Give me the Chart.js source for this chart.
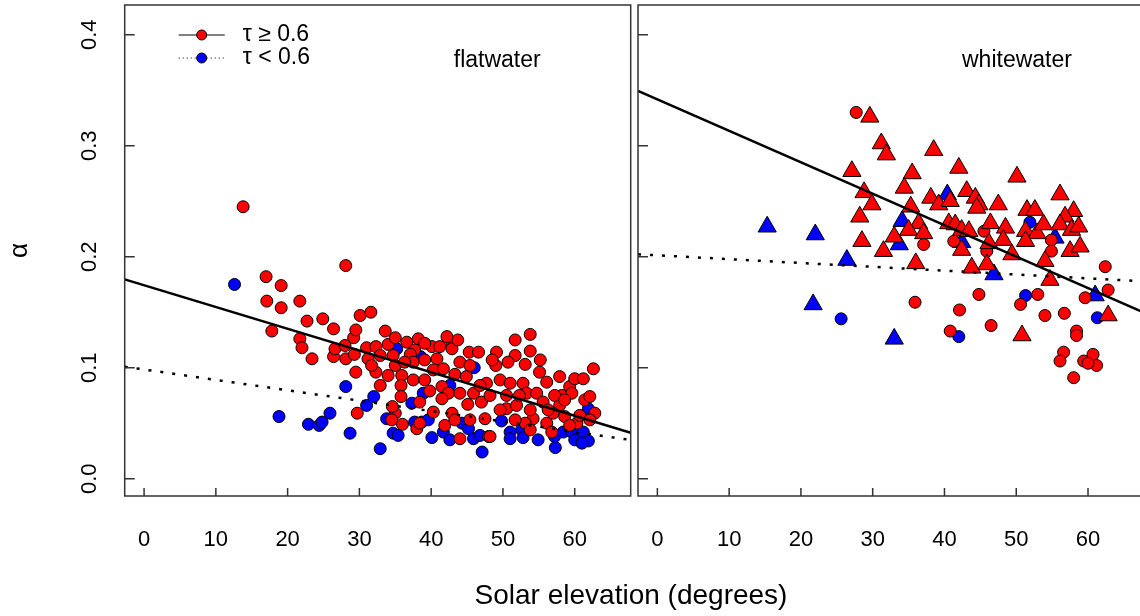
<!DOCTYPE html>
<html>
<head>
<meta charset="utf-8">
<script src="https://cdn.jsdelivr.net/npm/chart.js@4.4.1/dist/chart.umd.min.js"></script>
<style>
  html, body { margin: 0; padding: 0; background: #fff; overflow: hidden; }
  body { width: 1140px; height: 616px; position: relative; font-family: "Liberation Sans", Arial, sans-serif; }
  #flat { position: absolute; left: 0; top: 0; }
  #white { position: absolute; left: 600px; top: 0; }
  #xtitle { position: absolute; left: 431px; width: 400px; top: 580px; text-align: center;
            font-size: 28px; line-height: 30px; color: #000; }
</style>
</head>
<body>
<canvas id="flat" width="636" height="616"></canvas>
<canvas id="white" width="560" height="616"></canvas>
<div id="xtitle">Solar elevation (degrees)</div>
<script>
// axis ranges and ticks (shared by both panels)
const X_MIN = -2.7, X_MAX = 67.8;
const Y_MIN = -0.0156, Y_MAX = 0.4268;
const xTickValues = [0, 10, 20, 30, 40, 50, 60];
const yTickValues = [0, 0.1, 0.2, 0.3, 0.4];

// fitted lines, evaluated at X_MIN and X_MAX
const fitX = [X_MIN, X_MAX];
const flatFitHigh = [0.1796, 0.0414];
const flatFitLow = [0.1009, 0.0349];
const whiteFitHigh = [0.3494, 0.1497];
const whiteFitLow = [0.2022, 0.1778];

// flatwater, tau >= 0.6 : [solar elevation, alpha]
const flatHigh = [
  [13.8,0.245],[17.0,0.182],[19.1,0.174],[17.1,0.160],[19.1,0.154],[21.7,0.160],[28.1,0.192],
  [22.7,0.142],[24.9,0.144],[26.4,0.135],[30.1,0.147],[31.6,0.150],[17.8,0.133],[21.7,0.126],
  [22.0,0.118],[23.4,0.108],[26.4,0.110],[26.6,0.117],[28.1,0.108],[29.2,0.127],[29.5,0.134],
  [29.3,0.112],[31.0,0.118],[31.2,0.108],[29.5,0.096],[32.3,0.096],[29.7,0.059],[32.3,0.119],
  [33.6,0.133],[34.0,0.121],[34.7,0.111],[34.0,0.093],[35.9,0.093],[35.8,0.084],[35.8,0.074],
  [35.0,0.059],[36.0,0.049],[34.6,0.065],[36.6,0.123],[38.2,0.126],[37.7,0.116],[37.1,0.112],
  [37.5,0.105],[37.5,0.089],[39.1,0.089],[38.4,0.069],[38.0,0.045],[40.1,0.119],[41.2,0.119],
  [42.9,0.122],[40.8,0.108],[42.9,0.117],[40.3,0.098],[41.7,0.099],[43.3,0.094],[41.5,0.083],
  [42.4,0.077],[41.5,0.072],[42.9,0.059],[44.0,0.105],[45.3,0.114],[46.6,0.114],[44.9,0.092],
  [45.9,0.077],[47.0,0.069],[47.5,0.054],[48.0,0.038],[44.0,0.077],[47.7,0.086],[49.1,0.114],
  [49.0,0.102],[49.6,0.089],[51.7,0.125],[53.8,0.130],[51.7,0.111],[53.1,0.103],[53.8,0.115],
  [51.0,0.086],[52.8,0.086],[50.5,0.075],[53.3,0.077],[50.5,0.063],[51.9,0.066],[54.7,0.077],
  [55.6,0.069],[54.2,0.054],[56.1,0.087],[57.9,0.092],[58.2,0.075],[57.9,0.066],[57.0,0.059],
  [59.3,0.083],[60.0,0.090],[61.2,0.090],[59.6,0.077],[58.6,0.056],[60.3,0.050],[62.6,0.099],
  [62.8,0.059],[53.1,0.050],[56.1,0.050],[56.8,0.042],[48.2,0.038],[44.0,0.036],[40.3,0.060],
  [38.4,0.050],[32.9,0.111],[35.0,0.102],[39.1,0.107],[43.7,0.125],[45.4,0.102],[48.2,0.075],
  [49.6,0.062],[51.7,0.053],[55.2,0.107],[57.2,0.075],[61.4,0.071],[60.7,0.057],[53.8,0.062],
  [45.4,0.053],[41.9,0.048],[39.1,0.122],[42.2,0.128],[35.0,0.127],[36.3,0.105],[39.8,0.079],
  [45.1,0.067],[48.5,0.107],[50.7,0.105],[55.1,0.096],[56.3,0.062],[58.6,0.071],[62.1,0.074],
  [62.1,0.053],[52.3,0.075],[46.8,0.084],[32.9,0.084],[31.7,0.102],[28.0,0.120],[34.5,0.053],
  [43.3,0.053],[53.8,0.044],[59.3,0.048]
];

// flatwater, tau < 0.6
const flatLow = [
  [12.6,0.175],[18.8,0.056],[22.9,0.049],[24.4,0.048],[24.8,0.051],[25.9,0.059],[28.1,0.083],
  [28.7,0.041],[31.0,0.066],[32.0,0.074],[32.9,0.027],[33.8,0.054],[34.7,0.041],[35.4,0.039],
  [37.3,0.068],[37.7,0.051],[38.7,0.051],[38.9,0.077],[39.6,0.053],[38.5,0.110],[35.2,0.117],
  [42.6,0.084],[41.7,0.042],[42.6,0.035],[44.3,0.050],[45.2,0.045],[45.9,0.036],[46.8,0.039],
  [47.1,0.024],[46.0,0.100],[49.8,0.052],[51.0,0.042],[51.0,0.036],[52.6,0.044],[52.8,0.037],
  [54.9,0.035],[57.2,0.038],[57.3,0.028],[58.4,0.042],[59.6,0.042],[60.0,0.035],[61.2,0.042],
  [61.9,0.034],[61.9,0.063],[61.0,0.032],[40.1,0.037]
];

// whitewater, tau >= 0.6 (triangles and circles)
const whiteHighTri = [
  [29.6,0.326],[31.2,0.302],[27.1,0.277],[28.8,0.258],[29.9,0.247],[28.2,0.236],[28.5,0.214],
  [31.5,0.205],[31.9,0.292],[38.5,0.296],[42.0,0.280],[35.5,0.275],[50.1,0.272],[34.4,0.262],
  [43.1,0.259],[56.1,0.256],[38.1,0.253],[39.2,0.247],[40.8,0.250],[44.3,0.253],[44.8,0.247],
  [44.5,0.244],[47.5,0.247],[51.5,0.242],[52.6,0.242],[58.0,0.241],[56.8,0.236],[35.3,0.245],
  [36.4,0.230],[35.0,0.224],[37.1,0.221],[33.0,0.218],[40.6,0.230],[41.5,0.229],[42.4,0.224],
  [43.4,0.223],[46.4,0.230],[48.5,0.226],[48.2,0.215],[51.3,0.223],[52.9,0.221],[53.8,0.229],
  [56.1,0.229],[57.7,0.224],[58.7,0.227],[42.4,0.206],[46.2,0.212],[49.4,0.202],[51.3,0.214],
  [54.0,0.196],[57.5,0.205],[58.9,0.209],[36.0,0.194],[43.8,0.190],[45.9,0.193],[54.7,0.179],
  [62.8,0.147],[50.8,0.129]
];
const whiteHighDot = [
  [27.7,0.330],[37.1,0.211],[41.3,0.214],[45.5,0.223],[45.9,0.205],[54.9,0.215],[54.9,0.205],
  [62.4,0.191],[62.8,0.170],[59.6,0.163],[35.9,0.159],[44.8,0.166],[42.1,0.152],[50.6,0.157],
  [53.0,0.166],[54.0,0.147],[56.7,0.149],[46.5,0.138],[40.8,0.133],[58.4,0.133],[58.4,0.129],
  [56.6,0.114],[56.1,0.106],[59.4,0.106],[60.7,0.112],[61.2,0.102],[58.0,0.091],[60.0,0.104]
];

// whitewater, tau < 0.6
const whiteLowTri = [
  [15.3,0.227],[22.0,0.220],[26.4,0.197],[21.7,0.157],[40.4,0.256],[34.1,0.232],[33.7,0.211],
  [42.4,0.213],[46.9,0.184],[55.4,0.217],[61.0,0.165],[33.0,0.126]
];
const whiteLowDot = [
  [25.6,0.144],[51.9,0.231],[51.3,0.165],[42.0,0.128],[61.3,0.145]
];

const FONT = '"Liberation Sans", Arial, sans-serif';
const RED = '#ff0000', BLUE = '#0000ff';

function pts(arr) { return arr.map(p => ({ x: p[0], y: p[1] })); }
function fitLine(ys) { return fitX.map((x, i) => ({ x: x, y: ys[i] })); }

function markers(label, arr, color, style, radius) {
  return {
    label: label,
    data: pts(arr),
    pointStyle: style,
    pointRadius: radius,
    pointBackgroundColor: color,
    pointBorderColor: '#000',
    pointBorderWidth: 1,
    showLine: false
  };
}

function fit(label, ys, dash) {
  return {
    label: label,
    data: fitLine(ys),
    showLine: true,
    borderColor: '#000',
    borderWidth: 2.5,
    borderDash: dash,
    pointRadius: 0
  };
}

// box, inward ticks, rotated y labels, panel name and legend
const panelFrame = {
  id: 'panelFrame',
  afterDatasetsDraw(chart, args, opts) {
    const ctx = chart.ctx;
    const a = chart.chartArea;
    const xs = chart.scales.x, ys = chart.scales.y;
    ctx.save();
    ctx.strokeStyle = '#333';
    ctx.lineWidth = 1.5;
    ctx.setLineDash([]);
    ctx.strokeRect(a.left, a.top, a.right - a.left, a.bottom - a.top);
    ctx.beginPath();
    xs.ticks.forEach(t => {
      const px = xs.getPixelForValue(t.value);
      ctx.moveTo(px, a.bottom);
      ctx.lineTo(px, a.bottom - 8);
    });
    ys.ticks.forEach(t => {
      const py = ys.getPixelForValue(t.value);
      ctx.moveTo(a.left, py);
      ctx.lineTo(a.left + 10, py);
    });
    ctx.stroke();

    ctx.fillStyle = '#000';
    if (opts.yLabels) {
      ctx.font = '22px ' + FONT;
      ctx.textAlign = 'center';
      ctx.textBaseline = 'middle';
      ys.ticks.forEach(t => {
        ctx.save();
        ctx.translate(a.left - 35, ys.getPixelForValue(t.value));
        ctx.rotate(-Math.PI / 2);
        ctx.fillText(t.value.toFixed(1), 0, 0);
        ctx.restore();
      });
    }

    ctx.font = '23px ' + FONT;
    ctx.textAlign = 'center';
    ctx.textBaseline = 'middle';
    ctx.fillText(opts.name, xs.getPixelForValue(opts.nameAt[0]), ys.getPixelForValue(opts.nameAt[1]));

    if (opts.legend) {
      opts.legend.forEach((item, i) => {
        const ly = a.top + 30 + i * 23;
        ctx.strokeStyle = '#000';
        ctx.lineWidth = 1;
        ctx.setLineDash(item.dash);
        ctx.beginPath();
        ctx.moveTo(a.left + 54, ly);
        ctx.lineTo(a.left + 100, ly);
        ctx.stroke();
        ctx.setLineDash([]);
        ctx.beginPath();
        ctx.arc(a.left + 77, ly, 5, 0, Math.PI * 2);
        ctx.fillStyle = item.color;
        ctx.fill();
        ctx.stroke();
        ctx.fillStyle = '#000';
        ctx.textAlign = 'left';
        ctx.fillText(item.text, a.left + 118, ly);
      });
    }
    ctx.restore();
  }
};

function panelChart(id, datasets, cfg) {
  return new Chart(document.getElementById(id), {
    type: 'scatter',
    data: { datasets: datasets },
    options: {
      responsive: false,
      animation: false,
      layout: { autoPadding: false, padding: { left: 0, top: 5, right: cfg.padRight, bottom: 0 } },
      plugins: {
        legend: { display: false },
        tooltip: { enabled: false },
        panelFrame: cfg.frame
      },
      scales: {
        x: {
          type: 'linear',
          min: X_MIN,
          max: X_MAX,
          afterBuildTicks: s => { s.ticks = xTickValues.map(v => ({ value: v })); },
          afterFit: s => { s.height = 120; },
          grid: { display: false, drawTicks: false },
          border: { display: false },
          ticks: { color: '#000', font: { family: FONT, size: 22 }, padding: 31, maxRotation: 0 }
        },
        y: {
          type: 'linear',
          min: Y_MIN,
          max: Y_MAX,
          afterBuildTicks: s => { s.ticks = yTickValues.map(v => ({ value: v })); },
          afterFit: s => { s.width = cfg.yWidth; },
          grid: { display: false, drawTicks: false },
          border: { display: false },
          ticks: { display: false },
          title: cfg.yTitle
        }
      }
    },
    plugins: [panelFrame]
  });
}

panelChart('flat', [
  fit('fit tau >= 0.6', flatFitHigh, []),
  fit('fit tau < 0.6', flatFitLow, [3, 9]),
  markers('tau >= 0.6', flatHigh, RED, 'circle', 6),
  markers('tau < 0.6', flatLow, BLUE, 'circle', 6)
], {
  padRight: 5.3,
  yWidth: 124.7,
  yTitle: { display: true, text: 'α', color: '#000', font: { family: FONT, size: 26 }, padding: { top: 4, bottom: 0 } },
  frame: {
    yLabels: true,
    name: 'flatwater',
    nameAt: [49.2, 0.377],
    legend: [
      { text: 'τ ≥ 0.6', color: RED, dash: [] },
      { text: 'τ < 0.6', color: BLUE, dash: [1, 3] }
    ]
  }
});

panelChart('white', [
  fit('fit tau >= 0.6', whiteFitHigh, []),
  fit('fit tau < 0.6', whiteFitLow, [3, 9]),
  markers('tau >= 0.6 tri', whiteHighTri, RED, 'triangle', 10.5),
  markers('tau >= 0.6', whiteHighDot, RED, 'circle', 6),
  markers('tau < 0.6', whiteLowDot, BLUE, 'circle', 6),
  markers('tau < 0.6 tri', whiteLowTri, BLUE, 'triangle', 10.5)
], {
  padRight: 16,
  yWidth: 38,
  yTitle: { display: false },
  frame: { yLabels: false, name: 'whitewater', nameAt: [50.1, 0.377], legend: null }
});
</script>
</body>
</html>
